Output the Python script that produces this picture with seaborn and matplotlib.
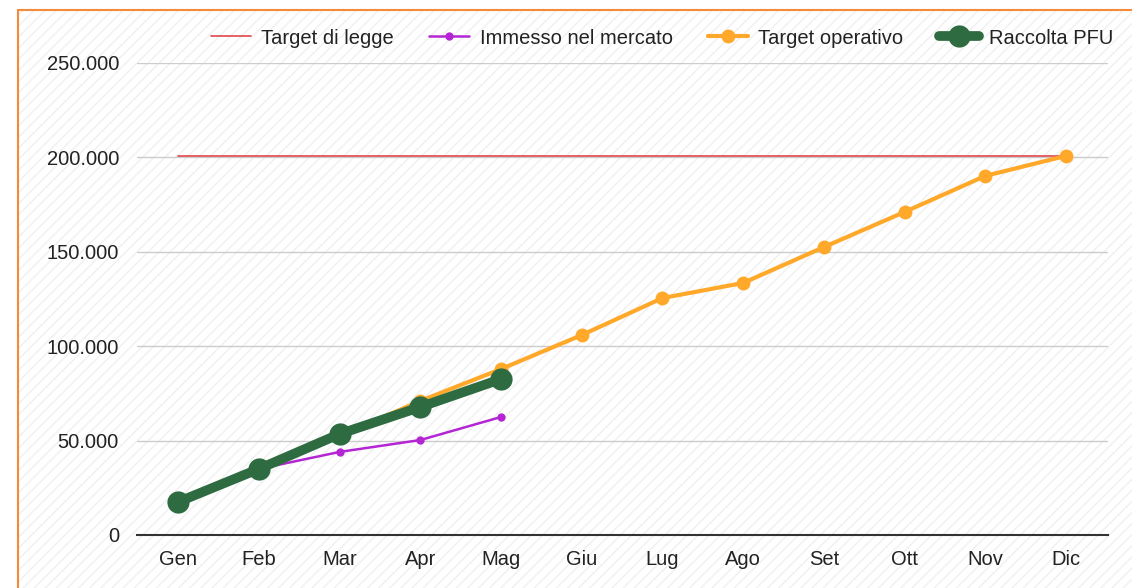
import numpy as np
import pandas as pd
import seaborn as sns
import matplotlib.pyplot as plt
from matplotlib.patches import Rectangle
from matplotlib.ticker import FuncFormatter

months = ["Gen", "Feb", "Mar", "Apr", "Mag", "Giu", "Lug", "Ago", "Set", "Ott", "Nov", "Dic"]
target_legge = [201000] * 12
immesso = [17000, 35000, 44000, 50300, 62500]
target_operativo = [16400, 34400, 52400, 71000, 87900, 105900, 125500, 133500, 152500, 171100, 190200, 200800]
raccolta = [17500, 35000, 53500, 67800, 82600]

sns.set_style("white")
plt.rcParams["font.family"] = ["Liberation Sans", "DejaVu Sans"]
plt.rcParams["hatch.linewidth"] = 1.0

fig = plt.figure(figsize=(11.32, 5.88), dpi=100)
# hatched background + orange frame (cropped on right/bottom)
x0, y1 = 18 / 1132, 1 - 10 / 588
hatch_bg = Rectangle((x0, -0.1), 1.2, y1 + 0.1, transform=fig.transFigure,
                     facecolor="white", edgecolor="#f0f0f0", linewidth=0, hatch="///", zorder=-10)
frame = Rectangle((x0, -0.1), 1.2, y1 + 0.1, transform=fig.transFigure,
                  facecolor="none", edgecolor="#f58a3a", linewidth=1.5, zorder=-9)
fig.patches.extend([hatch_bg, frame])

ax = fig.add_axes([137 / 1132, 1 - 535 / 588, (1108 - 137) / 1132, (535 - 63) / 588])
ax.patch.set_alpha(0)

x_all = np.arange(len(months))
df_legge = pd.DataFrame({"x": x_all, "y": target_legge})
df_imm = pd.DataFrame({"x": x_all[:len(immesso)], "y": immesso})
df_op = pd.DataFrame({"x": x_all, "y": target_operativo})
df_rac = pd.DataFrame({"x": x_all[:len(raccolta)], "y": raccolta})

sns.lineplot(data=df_legge, x="x", y="y", ax=ax, color="#e0474c", linewidth=1.2,
             label="Target di legge", zorder=3)
sns.lineplot(data=df_op, x="x", y="y", ax=ax, color="#ffa829", linewidth=3, marker="o",
             markersize=10, markeredgewidth=0, label="Target operativo", zorder=4)
sns.lineplot(data=df_imm, x="x", y="y", ax=ax, color="#b426d4", linewidth=1.8, marker="o",
             markersize=6, markeredgewidth=0, label="Immesso nel mercato", zorder=5)
sns.lineplot(data=df_rac, x="x", y="y", ax=ax, color="#2e6b40", linewidth=7, marker="o",
             markersize=16, markeredgewidth=0, label="Raccolta PFU", zorder=6)

ax.set_xlim(-0.51, 11.52)
ax.set_ylim(0, 250000)
ax.set_yticks([0, 50000, 100000, 150000, 200000, 250000])
ax.yaxis.set_major_formatter(FuncFormatter(lambda v, p: f"{int(v):,}".replace(",", ".")))
ax.set_xticks(x_all)
ax.set_xticklabels(months)
ax.set_xlabel("")
ax.set_ylabel("")
ax.tick_params(axis="both", length=0, labelsize=14.5, colors="#222222")
ax.tick_params(axis="y", pad=13)
ax.tick_params(axis="x", pad=11)
ax.grid(axis="y", color="#cccccc", linewidth=1)
for s in ["top", "right", "left"]:
    ax.spines[s].set_visible(False)
ax.spines["bottom"].set_color("#333333")
ax.spines["bottom"].set_linewidth(1.5)

handles, labels = ax.get_legend_handles_labels()
order = [labels.index(l) for l in ["Target di legge", "Immesso nel mercato", "Target operativo", "Raccolta PFU"]]
ax.legend([handles[i] for i in order], [labels[i] for i in order], loc="center",
          bbox_to_anchor=(662 / 1132, 1 - 38 / 588), bbox_transform=fig.transFigure,
          ncol=4, frameon=False, fontsize=14.5, handlelength=2.0, columnspacing=1.75,
          handletextpad=0.5, labelcolor="#222222")

fig.savefig("out.png", dpi=100)
